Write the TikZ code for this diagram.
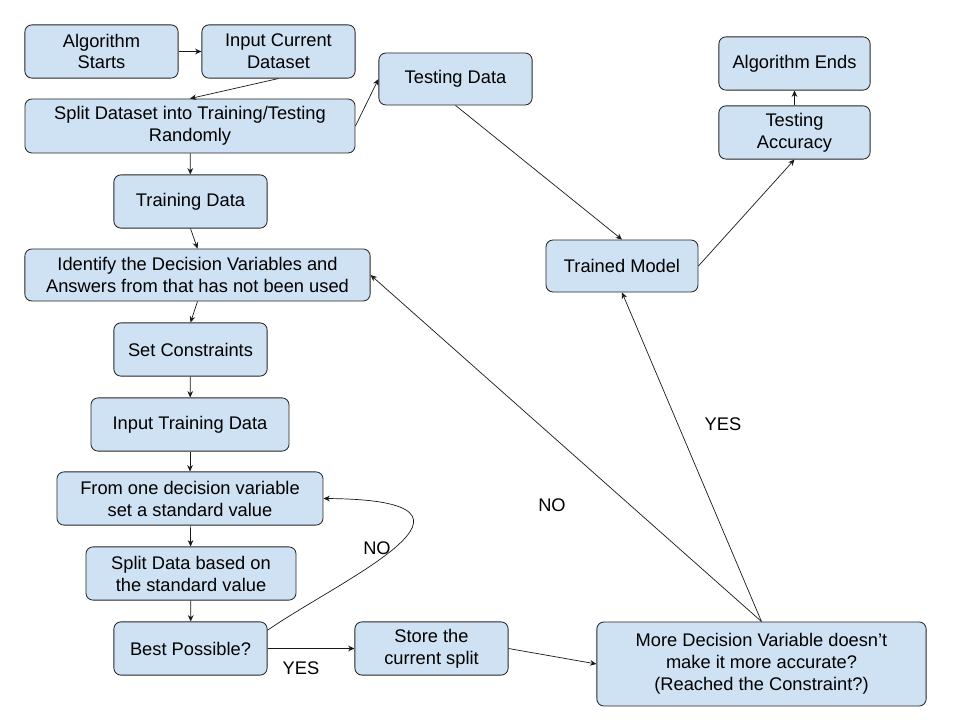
\documentclass[tikz,border=0pt]{standalone}
\usepackage{fontspec}
\setmainfont{Liberation Sans}
\usepackage{xcolor}
\usepackage{tikz}
\usetikzlibrary{positioning,arrows.meta}

\definecolor{boxblue}{HTML}{CFE2F3}

\begin{document}
\begin{tikzpicture}[
  x=0.025cm, y=-0.025cm,
  font=\fontsize{13}{15.6}\selectfont, >={Stealth[length=4.5pt,width=4pt]},
  box/.style={draw=black!85, line width=0.6pt, fill=boxblue, rounded corners=5pt,
              align=center, inner sep=2pt, minimum width=3.83cm, minimum height=1.33cm},
  arr/.style={->, line width=0.5pt, color=black!90},
  lbl/.style={inner sep=0pt},
]
\useasboundingbox (0,0) rectangle (960,720);

\node[box] (start)   at (101.5,51.5)  {Algorithm\\Starts};
\node[box] (input)   at (278.5,51.5)  {Input Current\\Dataset};
\node[box, minimum width=8.25cm, minimum height=1.35cm] (split) at (190,126)
  {Split Dataset into Training/Testing\\Randomly};
\node[box, minimum height=1.3cm] (testd) at (455.5,79) {Testing Data};
\node[box] (train)   at (190.5,201.5) {Training Data};
\node[box, minimum width=8.63cm, minimum height=1.3cm] (ident) at (197.5,275)
  {Identify the Decision Variables and\\Answers from that has not been used};
\node[box] (constr)  at (190.5,349.5) {Set Constraints};
\node[box, minimum width=4.95cm] (inptrain) at (190,424.5) {Input Training Data};
\node[box, minimum width=6.65cm] (fromone)  at (190,498.5) {From one decision variable\\set a standard value};
\node[box, minimum width=5.25cm] (splitd)   at (191,573.5) {Split Data based on\\the standard value};
\node[box] (best)    at (190.5,648.5) {Best Possible?};
\node[box] (store)   at (431.5,648.5) {Store the\\current split};
\node[box, minimum width=8.23cm, minimum height=2.1cm] (more) at (761.5,664)
  {More Decision Variable doesn’t\\make it more accurate?\\(Reached the Constraint?)};
\node[box, minimum width=3.8cm, minimum height=1.3cm] (trained) at (622,266) {Trained Model};
\node[box, minimum width=3.78cm] (testacc) at (794.5,132.5) {Testing\\Accuracy};
\node[box, minimum width=3.78cm] (ends)    at (794.5,63.5)  {Algorithm Ends};

% labels
\node[lbl] (no1)  at (552,505) {NO};
\node[lbl] (yes1) at (723,424) {YES};
\node[lbl] (no2)  at (377,548) {NO};
\node[lbl] (yes2) at (301,668) {YES};

\draw[arr] (start) -- (input);
\draw[arr] (input.south) -- (split.north);
\draw[arr] (split.east) -- (testd.west);
\draw[arr] (split) -- (train);
\draw[arr] (train.south) -- (ident.north);
\draw[arr] (ident.south) -- (constr.north);
\draw[arr] (constr) -- (inptrain);
\draw[arr] (inptrain) -- (fromone);
\draw[arr] (fromone) -- (splitd);
\draw[arr] (splitd) -- (best);
\draw[arr] ([yshift=13pt]best.east) .. controls (340,580) and (520,500) .. (fromone.east);
\draw[arr] (best) -- (store);
\draw[arr] (store.east) -- (more.west);
\draw[arr] (more.north) -- (ident.east);
\draw[arr] (more.north) -- (trained.south);
\draw[arr] (testd.south) -- (trained.north);
\draw[arr] (trained.east) -- (testacc.south);
\draw[arr] (testacc) -- (ends);
\end{tikzpicture}
\end{document}
